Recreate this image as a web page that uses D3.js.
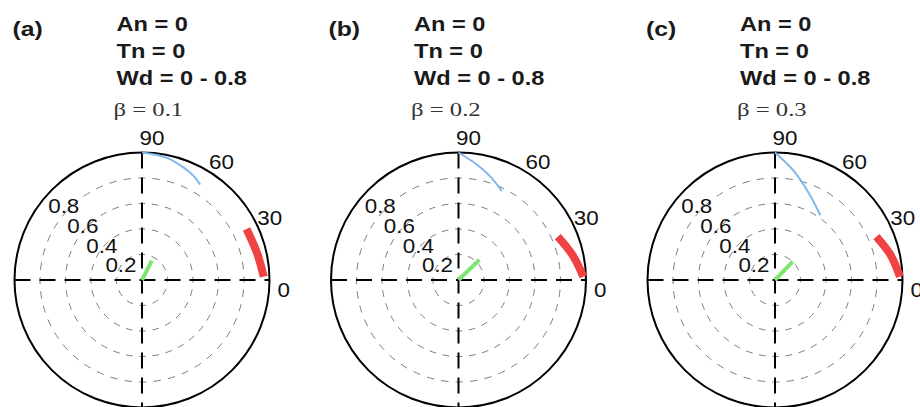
<!DOCTYPE html>
<html>
<head>
<meta charset="utf-8">
<script src="https://cdn.jsdelivr.net/npm/d3@7"></script>
<style>
  html, body { margin: 0; padding: 0; background: #fff; }
  svg { display: block; }
</style>
</head>
<body>
<svg id="chart" width="920" height="407"></svg>
<script>
// ---- data ---------------------------------------------------------------
const panelTags = ["(a)", "(b)", "(c)"];
const anValues = [0, 0, 0];
const tnValues = [0, 0, 0];
const wdRanges = ["0 - 0.8", "0 - 0.8", "0 - 0.8"];
const betaValues = [0.1, 0.2, 0.3];

const angleTicks = [0, 30, 60, 90];          // degrees
const radialTicks = [0.2, 0.4, 0.6, 0.8];
const radialMax = 1;

// each curve: [angle in degrees, radius]
const blueCurves = [
  [[90, 1.0], [78.5, 0.978], [69.6, 0.94], [63.5, 0.91], [58.6, 0.876]],
  [[90, 1.0], [81, 0.917], [73, 0.85], [64, 0.775]],
  [[90, 1.0], [80, 0.865], [68, 0.724], [55, 0.62]]
];
const redCurves = [
  [[1.6, 0.955], [13, 0.927], [26, 0.912]],
  [[1.5, 0.98], [12.4, 0.915], [23.6, 0.85]],
  [[1.5, 0.98], [12.3, 0.927], [23.2, 0.865]]
];
const greenCurves = [
  [[63, 0], [63, 0.17]],
  [[44, 0], [44, 0.228]],
  [[46, 0], [46, 0.2]]
];

// ---- layout -------------------------------------------------------------
const centersX = [142, 458.5, 775];
const centerY = 280;
const R = 127.5;
const tagX = [12.5, 328.5, 646];
const headX = [116.5, 414, 740];
const textStretch = 1.18;

const svg = d3.select("#chart");
svg.append("rect").attr("width", 920).attr("height", 407).attr("fill", "#fff");

const rScale = d3.scaleLinear().domain([0, radialMax]).range([0, R]);
const rad = d => d * Math.PI / 180;
// polar (math convention, counter-clockwise from east) to screen offsets
const pt = (deg, rpx) => [rpx * Math.cos(rad(deg)), -rpx * Math.sin(rad(deg))];

const radialLine = d3.lineRadial()
  .angle(d => rad(90 - d[0]))
  .radius(d => rScale(d[1]))
  .curve(d3.curveCatmullRom.alpha(0.5));

function stretchedText(g, x, y, str, opts) {
  const t = g.append("g")
    .attr("transform", `translate(${x},${y}) scale(${opts.sx || textStretch},1)`)
    .append("text")
    .attr("x", 0).attr("y", 0)
    .attr("font-family", opts.family || "'Liberation Sans', Arial, sans-serif")
    .attr("font-size", opts.size)
    .attr("font-weight", opts.weight || "normal")
    .attr("fill", opts.fill || "#111")
    .attr("text-anchor", opts.anchor || "start")
    .text(str);
  if (opts.baseline) t.attr("dominant-baseline", opts.baseline);
  return t;
}

panelTags.forEach((tag, i) => {
  const cx = centersX[i];

  // headings
  const head = svg.append("g");
  stretchedText(head, tagX[i], 36, tag, { size: 21, weight: "bold", fill: "#1a1a1a" });
  stretchedText(head, headX[i], 30.5, `An = ${anValues[i]}`, { size: 20, weight: "bold", fill: "#1a1a1a" });
  stretchedText(head, headX[i], 57.5, `Tn = ${tnValues[i]}`, { size: 20, weight: "bold", fill: "#1a1a1a" });
  stretchedText(head, headX[i], 85, `Wd = ${wdRanges[i]}`, { size: 20, weight: "bold", fill: "#1a1a1a" });
  stretchedText(head, headX[i] - 3, 116, `\u03b2 = ${betaValues[i]}`,
    { size: 19, family: "'Liberation Serif', 'Times New Roman', serif", fill: "#333", sx: 1.3 });

  const g = svg.append("g").attr("transform", `translate(${cx},${centerY})`);

  // dashed range rings; dash period fitted so a dash is centred on each axis crossing
  radialTicks.forEach(r => {
    const rp = rScale(r);
    const quarter = Math.PI * rp / 2;
    const n = Math.max(1, Math.round(quarter / 14));
    const period = quarter / n;
    const dash = period * 0.5;
    const arc = d3.path();
    arc.moveTo(rp, 0);
    arc.arc(0, 0, rp, 0, 2 * Math.PI, true);
    g.append("path")
      .attr("d", arc.toString())
      .attr("fill", "none")
      .attr("stroke", "#7d7d7d")
      .attr("stroke-width", 1)
      .attr("stroke-dasharray", `${dash},${period - dash}`)
      .attr("stroke-dashoffset", dash / 2);
  });

  // dashed axes through the origin
  const axisDash = "16,9";
  g.append("line").attr("x1", -R).attr("x2", R).attr("y1", 0).attr("y2", 0)
    .attr("stroke", "#000").attr("stroke-width", 2).attr("stroke-dasharray", axisDash);
  g.append("line").attr("x1", 0).attr("x2", 0).attr("y1", -R).attr("y2", R)
    .attr("stroke", "#000").attr("stroke-width", 2).attr("stroke-dasharray", axisDash);

  // outer boundary
  g.append("circle").attr("r", rScale(radialMax))
    .attr("fill", "none").attr("stroke", "#000").attr("stroke-width", 2);

  // data curves
  g.append("path").datum(redCurves[i]).attr("d", radialLine)
    .attr("fill", "none").attr("stroke", "#f04242").attr("stroke-width", 8)
    .attr("stroke-linecap", "butt");
  g.append("path").datum(blueCurves[i]).attr("d", radialLine)
    .attr("fill", "none").attr("stroke", "#7fb8ee").attr("stroke-width", 2);
  g.append("path").datum(greenCurves[i]).attr("d", radialLine)
    .attr("fill", "none").attr("stroke", "#7fe673").attr("stroke-width", 4);

  // angle labels
  angleTicks.forEach(a => {
    const [x, y] = pt(a - 4, R * 1.115);
    stretchedText(g, x, y, String(a), { size: 20, anchor: "middle", baseline: "central", sx: 1.12 });
  });

  // radius labels, stacked toward the upper left
  radialTicks.forEach(r => {
    const [x, y] = pt(134, rScale(r) * 1.076);
    stretchedText(g, x - 2, y + 5, String(r), { size: 20, anchor: "middle", baseline: "central", sx: 1.12 });
  });
});
</script>
</body>
</html>
